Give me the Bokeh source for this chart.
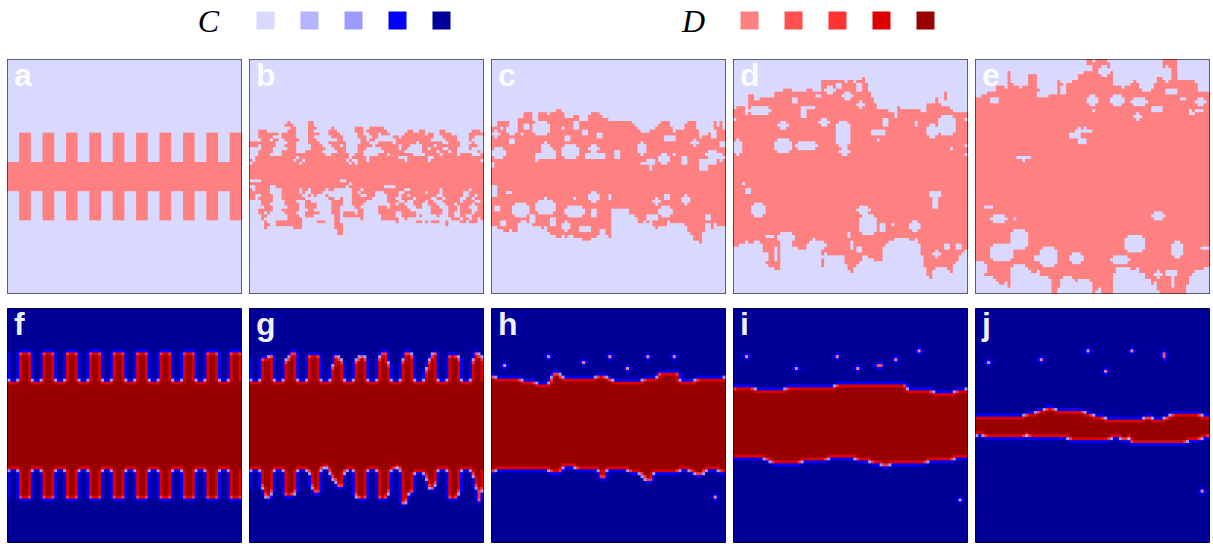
import numpy as np
from bokeh.core.properties import value
from bokeh.embed import file_html
from bokeh.layouts import column, row
from bokeh.models import Label, LinearColorMapper
from bokeh.plotting import figure
from bokeh.resources import INLINE

C_COLORS = ["#d9d9ff", "#b4b4ff", "#9c9cff", "#0000ff", "#000099"]
D_COLORS = ["#ff8080", "#ff5050", "#ff3333", "#dd0000", "#990000"]
LABELS = list("abcdefghij")

A_TOP = [35,35,35,35,25,25,25,25]*10
A_BOT = [44,44,44,44,54,54,54,54]*10

B_RUNS = {
21:"13 20-21",22:"12-14 20-21",23:"14-15 20-22 28 36-38 41-45",
24:"3-5 13-15 20-21 27-29 36-38 40-46 54-55 58-59 65-66 76-78",
25:"3-9 11-15 20-23 27-30 37-38 41-43 45-47 53-59 61-62 65-68 75-79",
26:"3-7 11-15 20-21 28-31 37-39 42-43 49-50 52-59 60-62 66-70 75-76",
27:"4-6 8-9 12-16 20-22 30-31 38-39 41-42 50-60 61 67-70 75",
28:"0-2 3-8 13-15 20-23 27-32 38-40 44-48 50-56 58-65 68-71 76",
29:"0-2 4-8 12-13 14-15 21-24 28-30 32 37-41 43-50 52-54 59-62 64-71 75-77",
30:"4-7 13-15 21-25 29-32 37-39 45-50 52-53 59-60 62-65 68-70 75",
31:"3-7 11-15 19-24 30-32 37-38 46-52 59-63 65-67 69-70 78",
32:"3-6 11-17 18-25 28-33 36-38 44-46 48-55 60-64 66-70 72-75 79",
33:"2-15 17-18 19-33 35-39 41-50 54-60 63-79",
34:"0 2-14 16-17 19-32 34 37-39 41-52 54-60 62-78",
35:"1-14 15-16 18-33 35 37-79",
36:"0-79",37:"0-79",38:"0-79",39:"0-79",40:"0-79",
41:"4-30 33-79",42:"0-8 9-31 32-33 35-79",43:"2-6 9-32 34-39 40-45 50-79",
44:"0 2-6 11-16 18-19 21-25 27-28 35-37 39-40 41-47 48-52 55-64 66-74 76-79",
45:"0-6 11-16 18 21-24 35-36 38-42 46-50 53-59 61-64 66-72 75-79",
46:"0-1 4-7 11-17 20 22 26 35-37 40-42 47-50 52-53 55-58 59-63 66-67 68-72 75-76 78-79",
47:"0-1 3-7 11-18 27-28 31 35-37 38-41 47-49 52-55 57-61 64-65 67-71 74-75 77-79",
48:"4-7 12-15 19-20 28-31 35-39 47-50 53 56-59 61-62 66-71 73-76 79",
49:"4-6 12-16 19-22 28-31 35-38 48-49 51-52 56-58 61-63 67-69 71-75 77-79",
50:"5-7 13-16 19-22 28-30 36-37 44-46 48-50 51-53 57-58 62-64 68-70 72-74 78-79",
51:"3-7 11-14 15-16 20-21 28-30 37-38 44-46 46-54 62-65 68-70 72-75 78-79",
52:"3-4 6 12-15 19-23 28-30 32-35 37-38 44-49 52-56 62-65 68-69 72-75 77-79",
53:"4-5 13-16 19-21 29-30 32-37 38 45-49 52-56 58 64 68-69 72-73 76-79",
54:"4 13-17 29-30 38 45-50 53 69-71 73-74 76-77 79",
55:"5 9-17 23-25 29-30 50 57-58 60 62-64 67 72-73 75-77",
56:"5-6 9-17 29-31 67",57:"5 15-17 29-31",58:"30-31",59:"30-31",
}

C_TOP = [23,23,21,21,21,21,24,25,24,20,20,18,18,18,21,22,18,18,18,19,18,18,17,17,18,20,20,20,19,19,21,21,21,19,18,18,18,19,20,20,
         21,21,21,21,21,21,21,21,22,23,24,25,25,25,24,24,23,22,21,21,21,23,25,24,24,24,22,21,21,21,24,27,26,26,25,24,21,23,21,24]
C_BOT = [56,56,57,57,58,58,57,58,58,55,54,54,55,55,56,56,56,57,56,58,59,59,60,60,59,60,59,59,60,60,60,61,61,61,60,60,59,59,59,59,
         60,50,50,50,50,50,50,52,52,53,55,55,54,55,54,56,57,56,56,56,54,55,55,55,55,56,56,58,59,61,61,62,58,55,55,57,55,56,56,56]
C_HOLES = [(30,33,0,4),(28,28,18,18),(29,29,17,19),(30,30,17,20),(31,31,17,21),(32,33,15,21),(34,34,15,15),
           (29,33,24,29),(29,31,33,36),(32,33,32,38),(31,33,42,43),(28,32,50,52),(34,34,53,55),(35,35,51,55),(36,37,54,54),
           (32,35,57,60),(32,32,62,62),(33,35,65,66),(31,33,73,77),(34,35,71,76),(36,37,71,73),(32,34,77,79),(35,36,0,0),
           (24,26,0,2),(22,25,5,8),(21,25,14,19),(23,23,24,24),(43,46,0,1),(45,45,5,6),(45,48,33,36),(46,47,40,40),(47,47,18,18),
           (47,47,28,28),(48,52,15,21),(49,53,7,12),(50,53,25,31),(51,53,34,35),(50,51,1,2),(47,49,55,57),(46,47,59,60),
           (46,49,65,67),(50,53,57,61),
           (23,23,3,3),(25,25,10,10),(22,23,11,12),(26,27,25,26),(21,23,28,29),(25,26,36,37),(27,28,6,7),(24,25,31,32),
           (26,27,59,62),(27,29,68,70),(24,26,75,76),(28,29,78,79),(55,58,24,26),(57,58,30,33),(58,59,37,38),(56,57,62,65),
           (53,54,53,56),(53,55,13,14),(54,56,20,21),(55,56,3,4),(53,54,73,74)]

D_TOP = [17,16,16,16,19,12,12,14,14,13,13,13,13,13,11,11,11,10,10,10,11,11,11,11,11,10,10,11,11,11,
         7,7,7,7,7,7,7,7,8,7,7,8,7,7,6,8,11,13,15,17,17,17,17,18,18,20,16,16,17,17,17,17,17,17,15,15,15,15,15,13,15,16,11,16,17,18,18,18,18,18]
D_BOT = [63,63,62,62,61,62,62,61,61,62,68,69,70,70,71,71,60,60,60,61,63,63,64,64,64,62,61,60,64,64,70,67,66,66,66,66,67,68,69,71,
         72,70,69,68,66,66,67,67,68,68,68,63,62,62,61,60,60,60,60,60,61,61,60,62,66,70,73,74,71,70,70,70,70,71,72,69,68,66,65,64]
D_HOLES = [(21,23,15,18),(20,22,29,32),(16,19,23,24),(16,16,25,27),(27,31,14,19),(28,30,21,28),(21,29,35,39),(30,32,36,39),
           (24,25,47,51),(27,27,49,49),(22,26,66,69),(19,25,70,75),(30,30,74,74),(27,32,0,2),(20,22,51,52),(21,22,62,62),
           (20,20,79,79),(29,29,79,79),(32,32,79,79),(20,20,0,0),(49,53,6,10),(44,45,4,5),(42,42,3,3),(45,46,67,70),(47,50,68,69),
           (50,52,42,46),(53,59,43,48),(56,58,50,51),(56,56,54,54),(55,58,60,63),(60,60,11,13),(59,62,15,20),(62,64,25,31),
           (59,60,39,39),(62,64,40,40),(9,11,31,34),(11,13,37,40),(14,16,42,44),(16,18,5,12),
           (8,9,35,36),(8,10,42,43),(12,12,28,29),(13,14,20,21),(15,16,57,59),(16,17,54,55),(15,17,64,65),(14,15,71,72),
           (66,68,30,32),(67,69,36,37),(64,65,42,43),(66,68,10,11),(63,64,72,73),(65,67,68,70),(63,64,76,77),(64,68,14,14),(62,64,52,54)]

E_TOP = [13,13,12,12,11,11,11,9,9,9,10,4,8,9,9,10,9,9,5,5,5,10,12,12,12,12,12,12,7,8,9,8,8,7,7,5,5,4,0,0,
         1,0,0,0,0,1,4,7,8,9,10,9,9,8,7,8,10,11,11,9,9,8,5,3,0,0,0,0,0,7,7,7,7,7,7,8,11,11,11,11]
E_BOT = [68,68,72,73,73,73,74,75,76,76,75,77,72,72,72,71,70,71,71,72,72,71,73,73,73,74,79,79,77,74,73,73,73,74,75,74,74,74,74,75,
         79,78,77,79,79,79,79,72,70,70,70,70,70,72,73,70,72,72,74,74,76,75,78,79,79,79,79,79,79,79,79,79,76,73,72,71,71,71,70,70]
E_HOLES = [(12,15,38,41),(17,17,40,40),(12,15,46,50),(13,15,53,58),(16,17,60,63),(18,20,54,56),(13,14,5,7),(10,11,65,68),
           (13,13,70,71),(13,15,75,78),(17,17,73,73),(17,17,75,77),(18,18,73,74),(23,23,35,35),(23,23,37,37),(24,24,34,39),
           (25,26,32,35),(27,28,35,37),(33,33,14,18),(34,34,16,16),(50,50,3,5),(53,55,5,10),(54,54,13,13),(52,54,60,64),
           (58,64,12,17),(64,70,22,27),(63,68,5,12),(66,69,32,36),(60,65,51,57),(62,67,67,70),(64,64,77,79),(67,69,46,52),
           (69,73,0,3),(70,74,12,17),(72,75,47,55),(72,73,65,68),(74,77,67,67),(72,74,61,63),(2,5,42,45),(2,7,64,66),
           (8,10,58,60),(3,5,62,63),(6,8,47,48),(2,3,38,39),(11,12,21,24),(9,11,29,30),(62,63,16,17),(59,60,14,14),(67,68,20,21)]

F_TOP = [25,25,25,25,15,15,15,15]*10
F_BOT = [54,54,54,54,64,64,64,64]*10

G_TOP = [25,25,25,25,17,17,17,16,25,25,25,25,18,17,15,15,25,25,25,25,16,16,16,16,25,25,25,25,20,16,17,18,25,25,25,25,18,17,16,17,
         25,25,25,25,17,15,15,19,25,25,25,25,18,15,15,16,25,25,25,25,21,18,16,15,25,25,25,25,16,16,16,17,25,25,25,25,18,15,16,17]
G_BOT = [54,54,54,54,60,63,64,62,54,54,54,54,63,63,63,62,54,54,54,54,55,60,62,62,54,53,53,55,57,58,60,60,55,54,54,54,63,64,64,64,
         54,54,54,54,64,64,64,62,54,54,53,54,66,65,62,62,55,55,55,55,57,60,61,59,54,54,54,54,64,64,64,62,54,54,54,54,56,60,65,61]

H_TOP = [23,24,24,24,24,24,24,24,24,24,25,25,25,25,25,26,26,26,26,26,24,22,22,23,24,24,24,24,24,24,24,24,24,24,24,24,23,23,23,24,
         24,25,25,25,25,25,25,25,25,25,25,25,24,24,24,24,24,22,22,22,22,22,22,22,25,25,25,25,25,25,24,24,24,24,24,24,24,24,24,24]
H_BOT = [55,54,54,54,54,54,54,54,54,54,54,54,54,54,54,54,54,54,54,54,55,55,55,55,53,53,53,53,53,54,54,54,54,54,54,54,54,57,57,54,
         54,54,54,54,54,54,54,55,55,55,55,56,57,58,58,55,55,55,55,55,55,55,55,55,54,54,54,54,55,55,56,56,55,54,54,54,54,54,55,55]
H_POINTS = [(19,4),(16,19),(18,31),(16,40),(20,46),(16,53),(16,62),(64,76)]

I_TOP = [27,27,27,27,27,27,27,28,28,28,28,28,28,28,28,28,28,28,27,27,27,27,27,27,27,27,27,27,27,27,27,27,27,27,27,26,26,26,26,26,
         26,26,26,26,26,26,26,26,26,26,26,26,26,26,26,26,26,26,26,28,28,28,28,28,28,28,28,28,29,29,29,29,29,29,29,29,28,28,28,28]
I_BOT = [50,50,50,50,50,50,50,50,50,50,50,51,51,52,52,52,52,52,52,52,52,52,52,51,51,51,51,51,51,51,51,51,50,50,50,50,50,50,50,50,
         50,50,51,51,51,51,51,52,52,52,52,53,53,52,52,52,52,52,52,52,52,52,52,52,52,52,51,51,51,51,51,51,51,51,51,50,50,50,50,50]
I_POINTS = [(16,4),(16,35),(20,21),(20,42),(19,49),(19,50),(17,55),(14,63),(65,77)]

J_TOP = [37,37,37,37,37,37,37,37,37,37,37,37,37,37,37,37,37,36,36,36,36,35,35,35,34,34,34,35,35,35,35,35,35,35,35,35,35,36,36,36,
         37,37,37,37,38,38,38,38,38,38,38,38,38,38,38,38,38,38,37,37,38,38,38,38,38,37,37,36,36,36,36,36,36,36,36,36,36,37,37,37]
J_BOT = [42,42,42,43,43,43,43,43,43,43,43,43,43,43,43,43,43,42,43,43,43,43,43,43,43,43,43,43,43,43,43,43,44,44,44,44,44,44,44,44,
         44,44,44,44,44,44,43,43,43,43,44,44,43,45,45,45,45,45,45,45,45,45,45,45,45,45,45,45,45,45,45,45,44,44,44,44,44,43,43,43]
J_POINTS = [(18,4),(17,22),(14,38),(14,53),(15,64),(16,64),(21,44),(62,77)]

N = 80
SAMPLES = 6
ALL_COLORS = C_COLORS + D_COLORS
mapper = LinearColorMapper(palette=ALL_COLORS, low=-0.5, high=9.5)


def band(top, bot):
    mask = np.zeros((N, N), dtype=int)
    for c, (t, b) in enumerate(zip(top, bot)):
        mask[t:b + 1, c] = 1
    return mask


def from_runs(runs):
    mask = np.zeros((N, N), dtype=int)
    for r, text in runs.items():
        for part in text.split():
            s, _, e = part.partition("-")
            mask[r, int(s):int(e or s) + 1] = 1
    return mask


def with_holes(mask, holes):
    for r0, r1, c0, c1 in holes:
        saved = [(r, c, mask[r, c]) for r in (r0, r1) for c in (c0, c1)]
        mask[r0:r1 + 1, c0:c1 + 1] = 0
        if r1 - r0 >= 2 and c1 - c0 >= 2:
            for r, c, v in saved:
                mask[r, c] = v
    return mask


def with_points(mask, points):
    for r, c in points:
        mask[r, c] = 1
    return mask


def plain_states(mask):
    return np.where(mask == 1, 5, 0)


def payoff_states(mask):
    nd = sum(np.roll(mask, s, axis=a) for a in (0, 1) for s in (1, -1))
    return np.where(mask == 1, 5 + nd, 4 - nd)


grids = [
    plain_states(band(A_TOP, A_BOT)),
    plain_states(from_runs(B_RUNS)),
    plain_states(with_holes(band(C_TOP, C_BOT), C_HOLES)),
    plain_states(with_holes(band(D_TOP, D_BOT), D_HOLES)),
    plain_states(with_holes(band(E_TOP, E_BOT), E_HOLES)),
    payoff_states(band(F_TOP, F_BOT)),
    payoff_states(band(G_TOP, G_BOT)),
    payoff_states(with_points(band(H_TOP, H_BOT), H_POINTS)),
    payoff_states(with_points(band(I_TOP, I_BOT), I_POINTS)),
    payoff_states(with_points(band(J_TOP, J_BOT), J_POINTS)),
]


def row_runs(grid):
    left, right, top, bottom, color = [], [], [], [], []
    for r in range(N):
        c = 0
        while c < N:
            e = c
            while e + 1 < N and grid[r, e + 1] == grid[r, c]:
                e += 1
            left.append(c)
            right.append(e + 1)
            top.append(N - r)
            bottom.append(N - r - 1)
            color.append(ALL_COLORS[grid[r, c]])
            c = e + 1
    return dict(left=left, right=right, top=top, bottom=bottom, color=color)


def panel(label, grid):
    p = figure(width=236, height=236, x_range=(0, N), y_range=(0, N), min_border=1,
               toolbar_location=None, output_backend="svg",
               x_axis_location=None, y_axis_location=None)
    p.grid.visible = False
    p.outline_line_color = "#000000"
    p.outline_line_width = 1
    # The same cells twice: the image shows through the hairlines between the quads.
    fine = grid[::-1].repeat(SAMPLES, axis=0).repeat(SAMPLES, axis=1)
    p.image(image=[fine], x=0, y=0, dw=N, dh=N, color_mapper=mapper)
    p.quad(source=row_runs(grid), left="left", right="right", top="top", bottom="bottom",
           fill_color="color", line_color=None)
    p.add_layout(Label(x=2.2, y=74.8, text=label, text_color="#ffffff",
                       text_font="Liberation Sans", text_font_style="bold",
                       text_font_size="32px", text_alpha=0.95, text_baseline="alphabetic"))
    return p


legend = figure(width=1204, height=58, x_range=(6, 1210), y_range=(58, 0), min_border=0,
                toolbar_location=None, output_backend="svg",
                x_axis_location=None, y_axis_location=None, outline_line_color=None)
legend.grid.visible = False
for name, colors, x_text, x_first in (("C", C_COLORS, 208, 265), ("D", D_COLORS, 693, 749)):
    legend.text(x=[x_text], y=[20], text=[name], text_font=value("Liberation Serif"),
                text_font_style="italic", text_font_size="32px", text_color="#000000",
                text_align="center", text_baseline="middle")
    legend.scatter(x=[x_first + 44 * i for i in range(5)], y=[20] * 5, marker="square", size=18,
                   fill_color=colors, line_color=None)

panels = [panel(l, g) for l, g in zip(LABELS, grids)]
row1 = row(*panels[:5], spacing=6)
row2 = row(*panels[5:], spacing=6)
page = column(legend, row1, row2, spacing=0, margin=(0, 0, 0, 6))
row2.margin = (13, 0, 0, 0)

open("out.html", "w").write(file_html(page, INLINE))
